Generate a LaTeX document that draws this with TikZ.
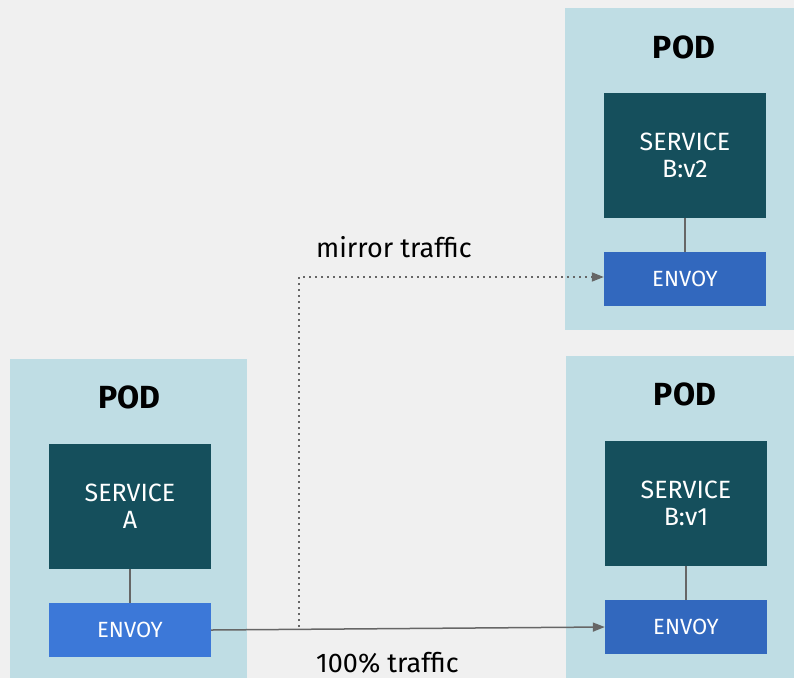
\documentclass[tikz,border=0pt]{standalone}
\usepackage{fontspec}
\setmainfont{Fira Sans}
\usetikzlibrary{arrows.meta}
\definecolor{bg}{HTML}{F0F0F0}
\definecolor{podc}{HTML}{BFDDE4}
\definecolor{svc}{HTML}{154F5C}
\definecolor{envA}{HTML}{3C78D8}
\definecolor{envB}{HTML}{3268BE}
\definecolor{linec}{HTML}{666666}
\tikzset{
  podbox/.style={fill=podc, draw=none},
  svcbox/.style={fill=svc, draw=none, text=white, align=center, font=\fontsize{25}{27}\selectfont, inner sep=0pt},
  envbox/.style={draw=none, text=white, font=\fontsize{22}{26}\selectfont, inner sep=0pt},
  podlabel/.style={font=\fontsize{32}{36}\selectfont\bfseries, inner sep=0pt},
  traflabel/.style={font=\fontsize{27}{30}\selectfont, inner sep=0pt, text depth=0pt, anchor=base west},
  link/.style={draw=linec, line width=1.5pt},
  flow/.style={draw=linec, line width=1.5pt, -{Triangle[length=12pt,width=9pt]}},
  mirror/.style={draw=linec, line width=1.8pt, dash pattern=on 1.8pt off 4.2pt, -{Triangle[length=12pt,width=9pt]}}
}
\begin{document}
\begin{tikzpicture}[x=1pt,y=-1pt]
\useasboundingbox (0,0) rectangle (794,678);
\fill[bg] (0,0) rectangle (794,678);
% pods
\fill[podbox] (10,359) rectangle (247,678);
\fill[podbox] (565,8) rectangle (794,330);
\fill[podbox] (566,356) rectangle (794,678);
\node[podlabel] (podA) at (129.5,397) {POD};
\node[podlabel] (podB2) at (684,47) {POD};
\node[podlabel] (podB1) at (685,394) {POD};
% services
\node[svcbox, minimum width=162pt, minimum height=125pt] (svcA) at (130,506.5) {SERVICE\\A};
\node[svcbox, minimum width=162pt, minimum height=125pt] (svcB2) at (685,155.5) {SERVICE\\B:v2};
\node[svcbox, minimum width=162pt, minimum height=125pt] (svcB1) at (686,503.5) {SERVICE\\B:v1};
% envoys
\node[envbox, fill=envA, minimum width=162pt, minimum height=54pt] (envA) at (130,630) {ENVOY};
\node[envbox, fill=envB, minimum width=162pt, minimum height=54pt] (envB2) at (685,279) {ENVOY};
\node[envbox, fill=envB, minimum width=162pt, minimum height=54pt] (envB1) at (686,627) {ENVOY};
% internal links
\draw[link] (svcA) -- (envA);
\draw[link] (svcB2) -- (envB2);
\draw[link] (svcB1) -- (envB1);
% traffic
\draw[flow] (envA.east) -- (envB1.west);
\coordinate (mstart) at (299,627);
\coordinate (mcorner) at (299,277);
\draw[mirror] (mstart) -- (mcorner) -- (envB2.west |- mcorner);
\node[traflabel] (mlabel) at (316,257) {mirror traffic};
\node[traflabel] (flabel) at (316,672) {100\% traffic};
\end{tikzpicture}
\end{document}
